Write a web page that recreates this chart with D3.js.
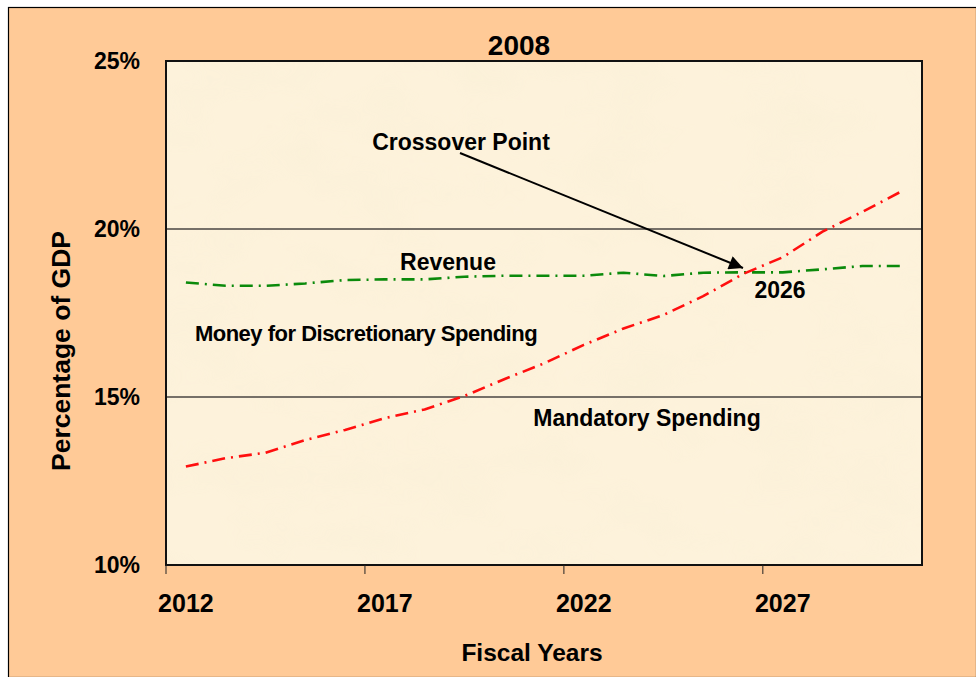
<!DOCTYPE html>
<html lang="en">
<head>
<meta charset="UTF-8">
<title>2008 crossover</title>
<script src="https://d3js.org/d3.v7.min.js"></script>
<style>
  * { margin: 0; padding: 0; box-sizing: border-box; }
  body { width: 976px; height: 677px; background: #ffffff; overflow: hidden; }
  svg { display: block; font-family: "Liberation Sans", Arial, sans-serif; }
</style>
</head>
<body>
<div id="chart"></div>
<script>
// fiscal years shown on the category axis
const years = d3.range(2012, 2031);
const tickYears = [2012, 2017, 2022, 2027];
const yTicks = [10, 15, 20, 25];
const gridLines = [15, 20];

// percentage of GDP
const mandatory = [12.93, 13.18, 13.34, 13.72, 14.02, 14.37, 14.63, 15.03, 15.53, 16.0,
                   16.55, 17.04, 17.44, 18.0, 18.66, 19.16, 19.92, 20.51, 21.13];
const revenue = [18.41, 18.31, 18.31, 18.38, 18.48, 18.5, 18.5, 18.58, 18.61, 18.61,
                 18.61, 18.7, 18.6, 18.7, 18.71, 18.71, 18.8, 18.9, 18.9];

const W = 976, H = 677;
const plot = { left: 166, right: 922, top: 61, bottom: 565 };

const svg = d3.select("#chart").append("svg")
    .attr("width", W).attr("height", H);

// paper texture for the plot area
const defs = svg.append("defs");
const filt = defs.append("filter").attr("id", "paper")
    .attr("x", 0).attr("y", 0).attr("width", "100%").attr("height", "100%");
filt.append("feTurbulence").attr("type", "fractalNoise")
    .attr("baseFrequency", "0.012 0.02").attr("numOctaves", 3).attr("seed", 4);
filt.append("feColorMatrix").attr("type", "matrix")
    .attr("values", "0 0 0 0 0.93  0 0 0 0 0.86  0 0 0 0 0.66  0 0 0 0.9 -0.38");
filt.append("feComposite").attr("in2", "SourceGraphic").attr("operator", "in");

// outer slide frame
svg.append("rect").attr("x", 0).attr("y", 0).attr("width", W).attr("height", H).attr("fill", "#ffffff");
svg.append("rect")
    .attr("x", 8.5).attr("y", 7.5).attr("width", W - 8).attr("height", H - 7)
    .attr("fill", "#ffca97").attr("stroke", "#000").attr("stroke-width", 1.2);

const x = d3.scaleBand().domain(years).range([plot.left, plot.right]);
const y = d3.scaleLinear().domain([10, 25]).range([plot.bottom, plot.top]);
const cx = d => x(d) + x.bandwidth() / 2;

// plot background
svg.append("rect")
    .attr("x", plot.left).attr("y", plot.top)
    .attr("width", plot.right - plot.left).attr("height", plot.bottom - plot.top)
    .attr("fill", "#fdf2db");
svg.append("rect")
    .attr("x", plot.left).attr("y", plot.top)
    .attr("width", plot.right - plot.left).attr("height", plot.bottom - plot.top)
    .attr("fill", "#fdf2db").attr("filter", "url(#paper)").attr("opacity", 0.7);

// horizontal grid lines
svg.selectAll(".grid").data(gridLines).join("line")
    .attr("x1", plot.left).attr("x2", plot.right)
    .attr("y1", d => y(d)).attr("y2", d => y(d))
    .attr("stroke", "#767068").attr("stroke-width", 2);

// plot border
svg.append("rect")
    .attr("x", plot.left).attr("y", plot.top)
    .attr("width", plot.right - plot.left).attr("height", plot.bottom - plot.top)
    .attr("fill", "none").attr("stroke", "#111").attr("stroke-width", 2);

// x tick marks at the category boundaries
svg.selectAll(".xtick").data(tickYears).join("line")
    .attr("x1", d => x(d)).attr("x2", d => x(d))
    .attr("y1", plot.bottom).attr("y2", plot.bottom + 9)
    .attr("stroke", "#222").attr("stroke-width", 1);

svg.selectAll(".xlab").data(tickYears).join("text")
    .attr("x", d => cx(d)).attr("y", 612)
    .attr("text-anchor", "middle")
    .attr("font-size", 25).attr("font-weight", "bold")
    .text(d => d);

svg.selectAll(".ylab").data(yTicks).join("text")
    .attr("x", 140).attr("y", d => y(d) + 8)
    .attr("text-anchor", "end")
    .attr("font-size", 23).attr("font-weight", "bold")
    .text(d => d + "%");

// titles
svg.append("text").attr("x", 519).attr("y", 55)
    .attr("text-anchor", "middle").attr("font-size", 28).attr("font-weight", "bold")
    .text("2008");
svg.append("text").attr("x", 532).attr("y", 661)
    .attr("text-anchor", "middle").attr("font-size", 24.5).attr("font-weight", "bold")
    .text("Fiscal Years");
svg.append("text")
    .attr("transform", "translate(70,351) rotate(-90)")
    .attr("text-anchor", "middle").attr("font-size", 26.5).attr("font-weight", "bold")
    .text("Percentage of GDP");

// series lines
const line = d3.line().x((d, i) => cx(years[i])).y(d => y(d));
svg.append("path").datum(revenue)
    .attr("d", line).attr("fill", "none")
    .attr("stroke", "#0b8a0b").attr("stroke-width", 2.6)
    .attr("stroke-dasharray", "13,6,2,6");
svg.append("path").datum(mandatory)
    .attr("d", line).attr("fill", "none")
    .attr("stroke", "#ff0f0f").attr("stroke-width", 2.6)
    .attr("stroke-dasharray", "13,6,2,6");

// annotations
const ann = [
  { t: "Crossover Point", x: 461, y: 150, s: 23, ls: 0 },
  { t: "Revenue", x: 448, y: 270, s: 23, ls: 0 },
  { t: "Money for Discretionary Spending", x: 366, y: 341, s: 22, ls: -0.5 },
  { t: "Mandatory Spending", x: 647, y: 426, s: 23, ls: 0 },
  { t: "2026", x: 780, y: 298, s: 23, ls: 0 }
];
svg.selectAll(".ann").data(ann).join("text")
    .attr("x", d => d.x).attr("y", d => d.y)
    .attr("text-anchor", "middle")
    .attr("font-size", d => d.s).attr("font-weight", "bold")
    .attr("letter-spacing", d => d.ls)
    .text(d => d.t);

// arrow to the crossover
defs.append("marker").attr("id", "head")
    .attr("viewBox", "0 0 10 10").attr("refX", 10).attr("refY", 5)
    .attr("markerWidth", 8).attr("markerHeight", 7).attr("markerUnits", "strokeWidth")
    .attr("orient", "auto")
    .append("path").attr("d", "M0,0L10,5L0,10Z").attr("fill", "#000");
svg.append("line")
    .attr("x1", 460).attr("y1", 153).attr("x2", 743).attr("y2", 268)
    .attr("stroke", "#000").attr("stroke-width", 2)
    .attr("marker-end", "url(#head)");
</script>
</body>
</html>
